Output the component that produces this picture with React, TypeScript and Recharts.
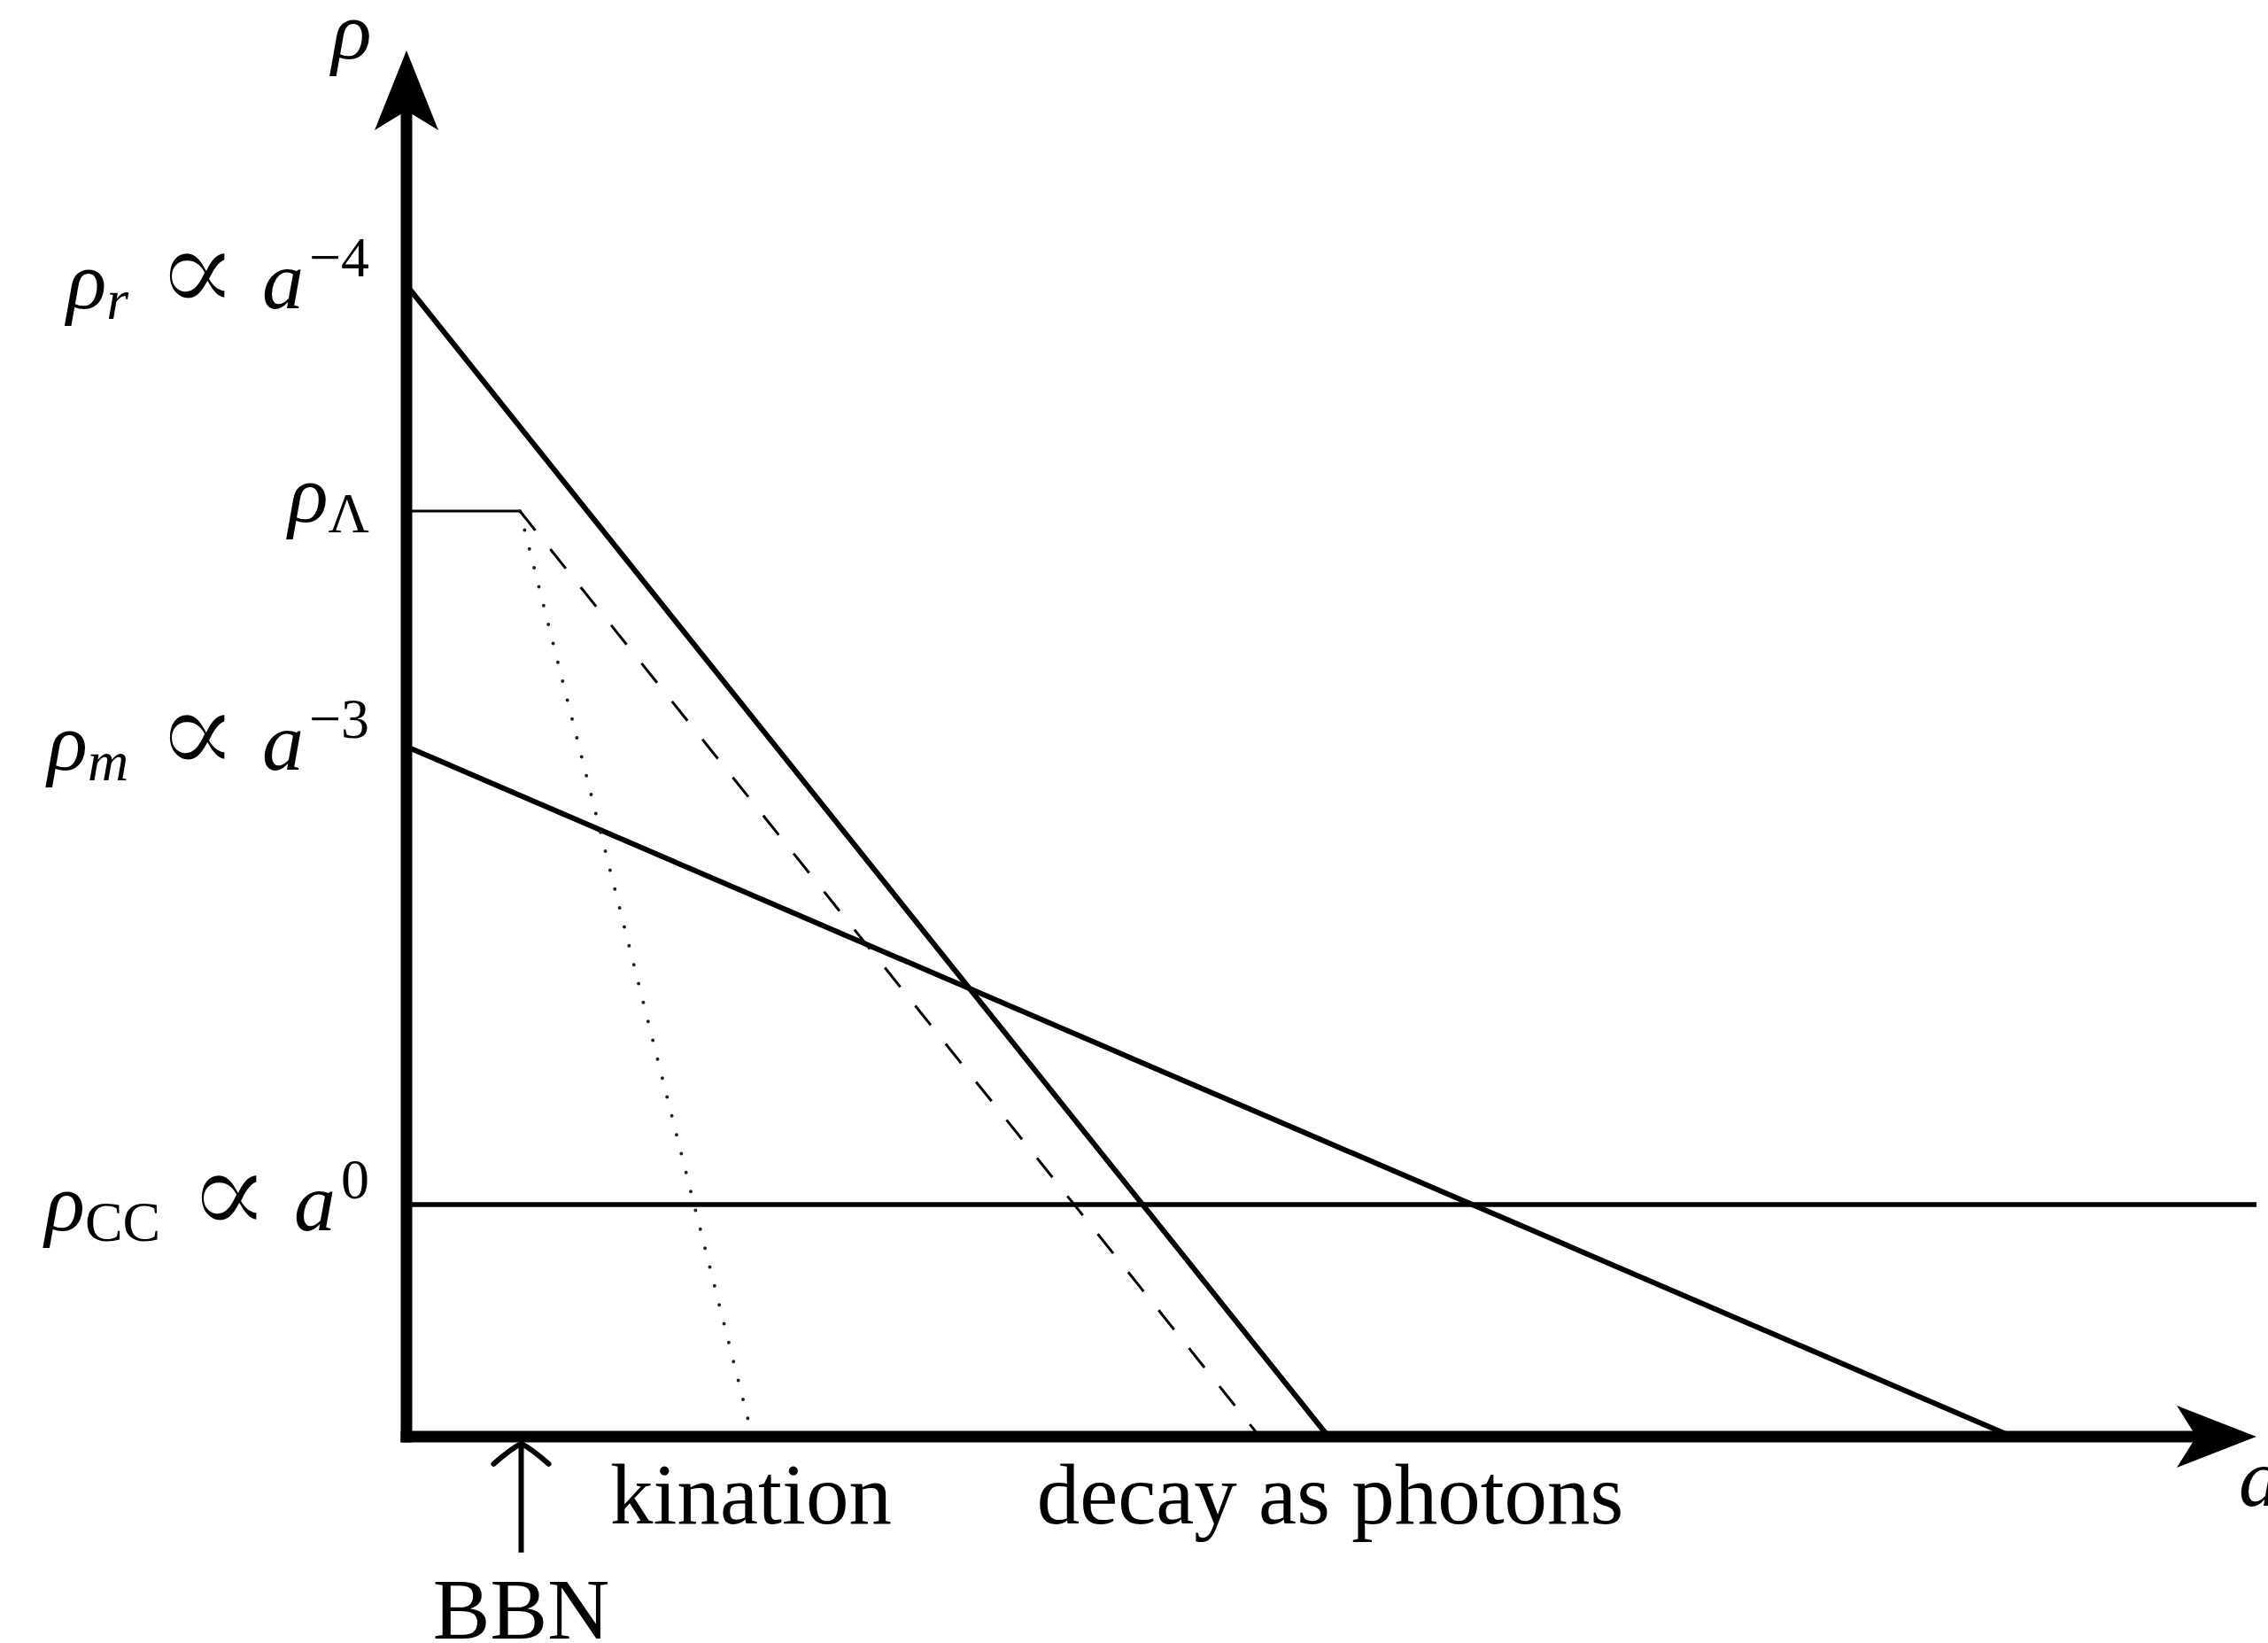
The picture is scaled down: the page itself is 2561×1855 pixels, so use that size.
import React from 'react';
import { LineChart, Line, XAxis, YAxis, ReferenceLine, ReferenceDot } from 'recharts';

// schematic log-log axes, both running 0..100
const radiation = [{ x: 0, y: 83.07 }, { x: 49.83, y: 0 }];
const matter = [{ x: 0, y: 49.78 }, { x: 86.79, y: 0 }];
const constant = [{ x: 0, y: 16.74 }, { x: 100, y: 16.74 }];
const lambdaFlat = [{ x: 0, y: 66.77 }, { x: 6.13, y: 66.77 }];
const kination = [{ x: 6.13, y: 66.77 }, { x: 18.53, y: 0.89 }];
const photons = [{ x: 6.13, y: 66.77 }, { x: 46.0, y: 0.2 }];

const yTicks = [83.07, 66.77, 49.78, 16.74];
const ySubs = ['r', 'Λ', 'm', 'CC'];
const yPowers = ['−4', '', '−3', '0'];

const xTicks = [6.2, 18.62, 49.93];
const xLabels = ['BBN', 'kination', 'decay as photons'];

const bbnTip = { x: 6.2, y: -0.5 };
const rhoTitle = { x: -2.97, y: 99.42 };
const aTitle = { x: 99.04, y: -4.98 };

const SERIF = '"Liberation Serif", "DejaVu Serif", serif';
const BIG = 94;
const SMALL = 64;
// baseline offsets of the y labels from their tick (tikz centres the node)
const yBaseline = [26, 12, 26, 29];

function RhoTick(props: any) {
  const { x, y, payload } = props;
  const i = yTicks.indexOf(payload.value);
  if (i < 0) return null;
  const sub = ySubs[i];
  const pow = yPowers[i];
  const upright = sub === 'CC' || sub === 'Λ';
  return (
    <text x={x} y={y + yBaseline[i]} textAnchor="end" fontFamily={SERIF} fontSize={BIG} fill="#000">
      <tspan fontStyle="italic">ρ</tspan>
      <tspan fontSize={SMALL} dy={12} fontStyle={upright ? 'normal' : 'italic'}>{sub}</tspan>
      {pow !== '' && (
        <>
          {/* white outline thins the heavy ∝ glyph */}
          <tspan dx={30} dy={-7} fontSize={140} stroke="#fff" strokeWidth={3}>∝</tspan>
          <tspan dx={26} dy={-5} fontStyle="italic">a</tspan>
          <tspan fontSize={SMALL} dx={6} dy={-36}>{pow}</tspan>
        </>
      )}
    </text>
  );
}

function EventTick(props: any) {
  const { x, y, payload } = props;
  const i = xTicks.indexOf(payload.value);
  if (i < 0) return null;
  return (
    <text x={x} y={y + (i === 0 ? 228 : 98)} textAnchor="middle" fontFamily={SERIF} fontSize={97} fill="#000">
      {xLabels[i]}
    </text>
  );
}

const upArrow = (p: any) => (
  <polygon points={`${p.cx},${p.cy} ${p.cx + 36},${p.cy + 90} ${p.cx},${p.cy + 68} ${p.cx - 36},${p.cy + 90}`} fill="#000" />
);
const rightArrow = (p: any) => (
  <polygon points={`${p.cx},${p.cy} ${p.cx - 90},${p.cy - 35} ${p.cx - 68},${p.cy} ${p.cx - 90},${p.cy + 35}`} fill="#000" />
);
const bbnArrow = (p: any) => (
  <g stroke="#000" strokeWidth={6} fill="none">
    <line x1={p.cx} y1={p.cy + 2} x2={p.cx} y2={p.cy + 123} />
    <path d={`M${p.cx - 31},${p.cy + 23} Q${p.cx - 12},${p.cy + 6} ${p.cx},${p.cy} Q${p.cx + 12},${p.cy + 6} ${p.cx + 31},${p.cy + 23}`} strokeLinecap="round" />
  </g>
);
const titleText = (txt: string, anchor: string) => (p: any) => (
  <text x={p.cx} y={p.cy} textAnchor={anchor} fontFamily={SERIF} fontStyle="italic" fontSize={BIG} fill="#000">
    {txt}
  </text>
);

export default function App() {
  return (
    <div style={{ position: 'absolute', left: 0, top: 0, width: 2561, height: 1855, background: '#fff' }}>
      <LineChart width={2561} height={1855} margin={{ top: 57, right: 13, bottom: 0, left: 0 }}>
        <XAxis
          type="number"
          dataKey="x"
          domain={[0, 100]}
          ticks={xTicks}
          interval={0}
          axisLine={false}
          tickLine={false}
          tickSize={0}
          tickMargin={0}
          height={233}
          tick={<EventTick />}
          allowDataOverflow
        />
        <YAxis
          type="number"
          dataKey="y"
          domain={[0, 100]}
          ticks={yTicks}
          interval={0}
          axisLine={false}
          tickLine={false}
          tickSize={0}
          tickMargin={42}
          width={459}
          tick={<RhoTick />}
          allowDataOverflow
        />

        <Line data={radiation} dataKey="y" type="linear" stroke="#000" strokeWidth={6} dot={false} activeDot={false} isAnimationActive={false} />
        <Line data={matter} dataKey="y" type="linear" stroke="#000" strokeWidth={6} dot={false} activeDot={false} isAnimationActive={false} />
        <Line data={constant} dataKey="y" type="linear" stroke="#000" strokeWidth={5.5} dot={false} activeDot={false} isAnimationActive={false} />
        <Line data={lambdaFlat} dataKey="y" type="linear" stroke="#000" strokeWidth={3} dot={false} activeDot={false} isAnimationActive={false} />
        <Line data={kination} dataKey="y" type="linear" stroke="#222" strokeWidth={4} strokeDasharray="0 22" strokeLinecap="round" dot={false} activeDot={false} isAnimationActive={false} />
        <Line data={photons} dataKey="y" type="linear" stroke="#000" strokeWidth={3} strokeDasharray="28 27" dot={false} activeDot={false} isAnimationActive={false} />

        {/* axes with arrow heads */}
        <ReferenceLine segment={[{ x: 0, y: 0 }, { x: 0, y: 95.7 }]} stroke="#000" strokeWidth={13} strokeLinecap="square" ifOverflow="visible" />
        <ReferenceLine segment={[{ x: 0, y: 0 }, { x: 96.8, y: 0 }]} stroke="#000" strokeWidth={13} strokeLinecap="square" ifOverflow="visible" />
        <ReferenceDot x={0} y={100} ifOverflow="visible" shape={upArrow} />
        <ReferenceDot x={100} y={0} ifOverflow="visible" shape={rightArrow} />
        <ReferenceDot x={bbnTip.x} y={bbnTip.y} ifOverflow="visible" shape={bbnArrow} />
        <ReferenceDot x={rhoTitle.x} y={rhoTitle.y} ifOverflow="visible" shape={titleText('ρ', 'middle')} />
        <ReferenceDot x={aTitle.x} y={aTitle.y} ifOverflow="visible" shape={titleText('a', 'start')} />
      </LineChart>
    </div>
  );
}
